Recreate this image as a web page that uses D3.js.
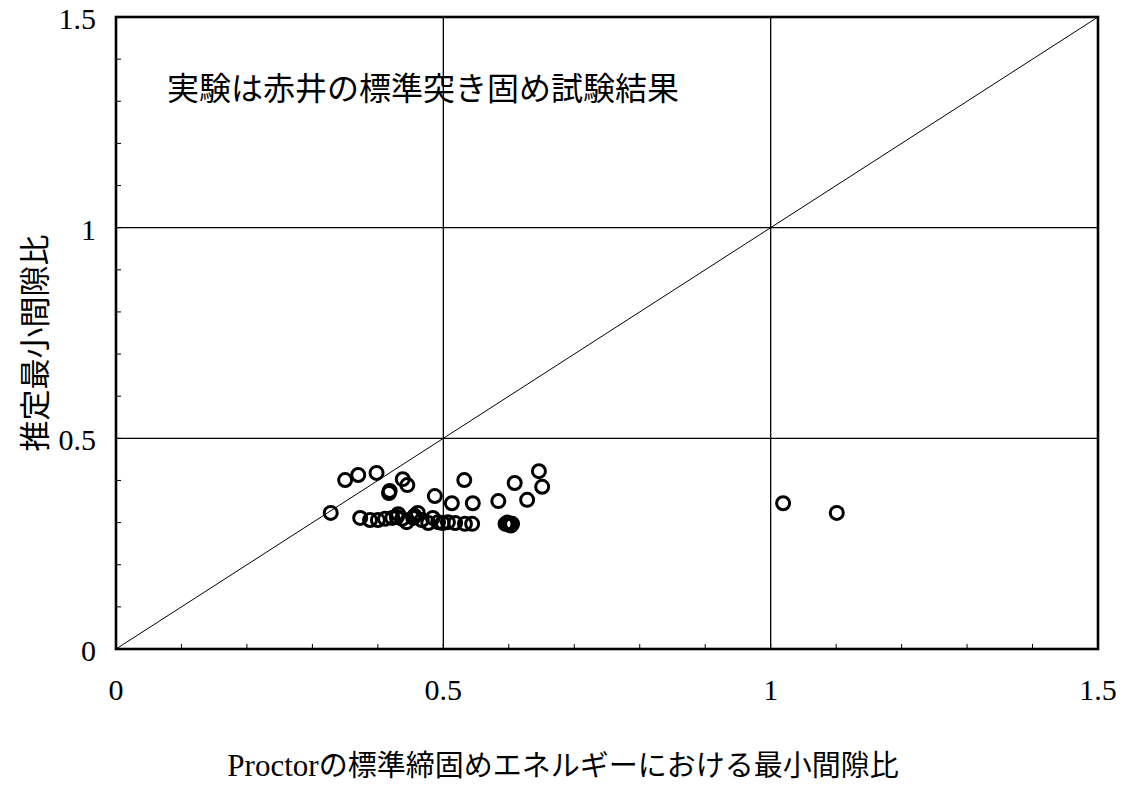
<!DOCTYPE html>
<html>
<head>
<meta charset="utf-8">
<script src="https://cdn.jsdelivr.net/npm/d3@7"></script>
<style>
  body { margin: 0; background: #fff; }
  svg { display: block; }
</style>
</head>
<body>
<div id="chart"></div>
<script>
// measured (Proctor) vs estimated minimum void ratio
const measured = [0.350, 0.370, 0.398, 0.438, 0.445, 0.417, 0.418, 0.532, 0.487, 0.513, 0.545,
  0.584, 0.609, 0.646, 0.651, 0.628, 0.328,
  0.373, 0.388, 0.400, 0.411, 0.422, 0.429, 0.437, 0.444, 0.454, 0.461, 0.467, 0.477, 0.484,
  0.492, 0.499, 0.507, 0.518, 0.533, 0.544, 0.431, 0.456,
  0.595, 0.600, 0.605, 0.598, 0.603,
  1.019, 1.101];
const estimated = [0.401, 0.413, 0.418, 0.403, 0.389, 0.370, 0.375, 0.401, 0.363, 0.346, 0.346,
  0.351, 0.394, 0.422, 0.385, 0.354, 0.323,
  0.311, 0.306, 0.306, 0.309, 0.311, 0.313, 0.309, 0.301, 0.311, 0.323, 0.306, 0.299, 0.311,
  0.301, 0.299, 0.301, 0.299, 0.297, 0.297, 0.320, 0.316,
  0.297, 0.295, 0.297, 0.300, 0.293,
  0.346, 0.323];
const tickValues = [0, 0.5, 1, 1.5];
const tickLabels = ["0", "0.5", "1", "1.5"];
const gridValues = [0.5, 1];
const minorTicks = d3.range(1, 15).map(i => i / 10);
const note = "実験は赤井の標準突き固め試験結果";
const xTitle = "Proctorの標準締固めエネルギーにおける最小間隙比";
const yTitle = "推定最小間隙比";

const width = 1129, height = 787;
const margin = {left: 116, right: 31, top: 17, bottom: 138};

const svg = d3.select("#chart").append("svg")
  .attr("width", width).attr("height", height);

const x = d3.scaleLinear().domain([0, 1.5]).range([margin.left, width - margin.right]);
const y = d3.scaleLinear().domain([0, 1.5]).range([height - margin.bottom, margin.top]);

const serif = "'Liberation Serif', 'Times New Roman', serif";
const cjk = "'Noto Sans CJK JP', sans-serif";

// grid
svg.selectAll(".gx").data(gridValues).enter().append("line")
  .attr("x1", d => x(d)).attr("x2", d => x(d))
  .attr("y1", y(0)).attr("y2", y(1.5))
  .attr("stroke", "#000").attr("stroke-width", 1.3);
svg.selectAll(".gy").data(gridValues).enter().append("line")
  .attr("y1", d => y(d)).attr("y2", d => y(d))
  .attr("x1", x(0)).attr("x2", x(1.5))
  .attr("stroke", "#000").attr("stroke-width", 1.3);

// 1:1 line
svg.append("line")
  .attr("x1", x(0)).attr("y1", y(0))
  .attr("x2", x(1.5)).attr("y2", y(1.5))
  .attr("stroke", "#000").attr("stroke-width", 1);

// minor ticks
svg.selectAll(".mx").data(minorTicks).enter().append("line")
  .attr("x1", d => x(d)).attr("x2", d => x(d))
  .attr("y1", y(0)).attr("y2", y(0) - 5)
  .attr("stroke", "#000").attr("stroke-width", 1);
svg.selectAll(".my").data(minorTicks).enter().append("line")
  .attr("y1", d => y(d)).attr("y2", d => y(d))
  .attr("x1", x(0)).attr("x2", x(0) + 5)
  .attr("stroke", "#000").attr("stroke-width", 1);

// frame
svg.append("rect")
  .attr("x", x(0)).attr("y", y(1.5))
  .attr("width", x(1.5) - x(0)).attr("height", y(0) - y(1.5))
  .attr("fill", "none").attr("stroke", "#000").attr("stroke-width", 2.6);

// tick labels
svg.selectAll(".tx").data(tickValues).enter().append("text")
  .attr("x", d => x(d)).attr("y", y(0) + 51)
  .attr("text-anchor", "middle")
  .style("font-family", serif).style("font-size", "30px")
  .text((d, i) => tickLabels[i]);
svg.selectAll(".ty").data(tickValues).enter().append("text")
  .attr("x", x(0) - 20).attr("y", d => y(d) + 12)
  .attr("text-anchor", "end")
  .style("font-family", serif).style("font-size", "30px")
  .text((d, i) => tickLabels[i]);

// points
svg.selectAll(".pt").data(measured).enter().append("circle")
  .attr("cx", d => x(d))
  .attr("cy", (d, i) => y(estimated[i]))
  .attr("r", 6.5)
  .attr("fill", "none").attr("stroke", "#000").attr("stroke-width", 3);

// annotation
svg.append("text")
  .attr("x", 167).attr("y", 100)
  .style("font-family", cjk).style("font-size", "32px")
  .text(note);

// axis titles
const xt = svg.append("text")
  .attr("x", 563).attr("y", 776)
  .attr("text-anchor", "middle")
  .style("font-size", "29px");
xt.append("tspan").style("font-family", serif).style("font-size", "31px").text(xTitle.slice(0, 7));
xt.append("tspan").style("font-family", cjk).text(xTitle.slice(7));

svg.append("text")
  .attr("transform", `translate(46, ${y(0.75) + 10}) rotate(-90)`)
  .attr("text-anchor", "middle")
  .style("font-family", cjk).style("font-size", "31px")
  .text(yTitle);
</script>
</body>
</html>
